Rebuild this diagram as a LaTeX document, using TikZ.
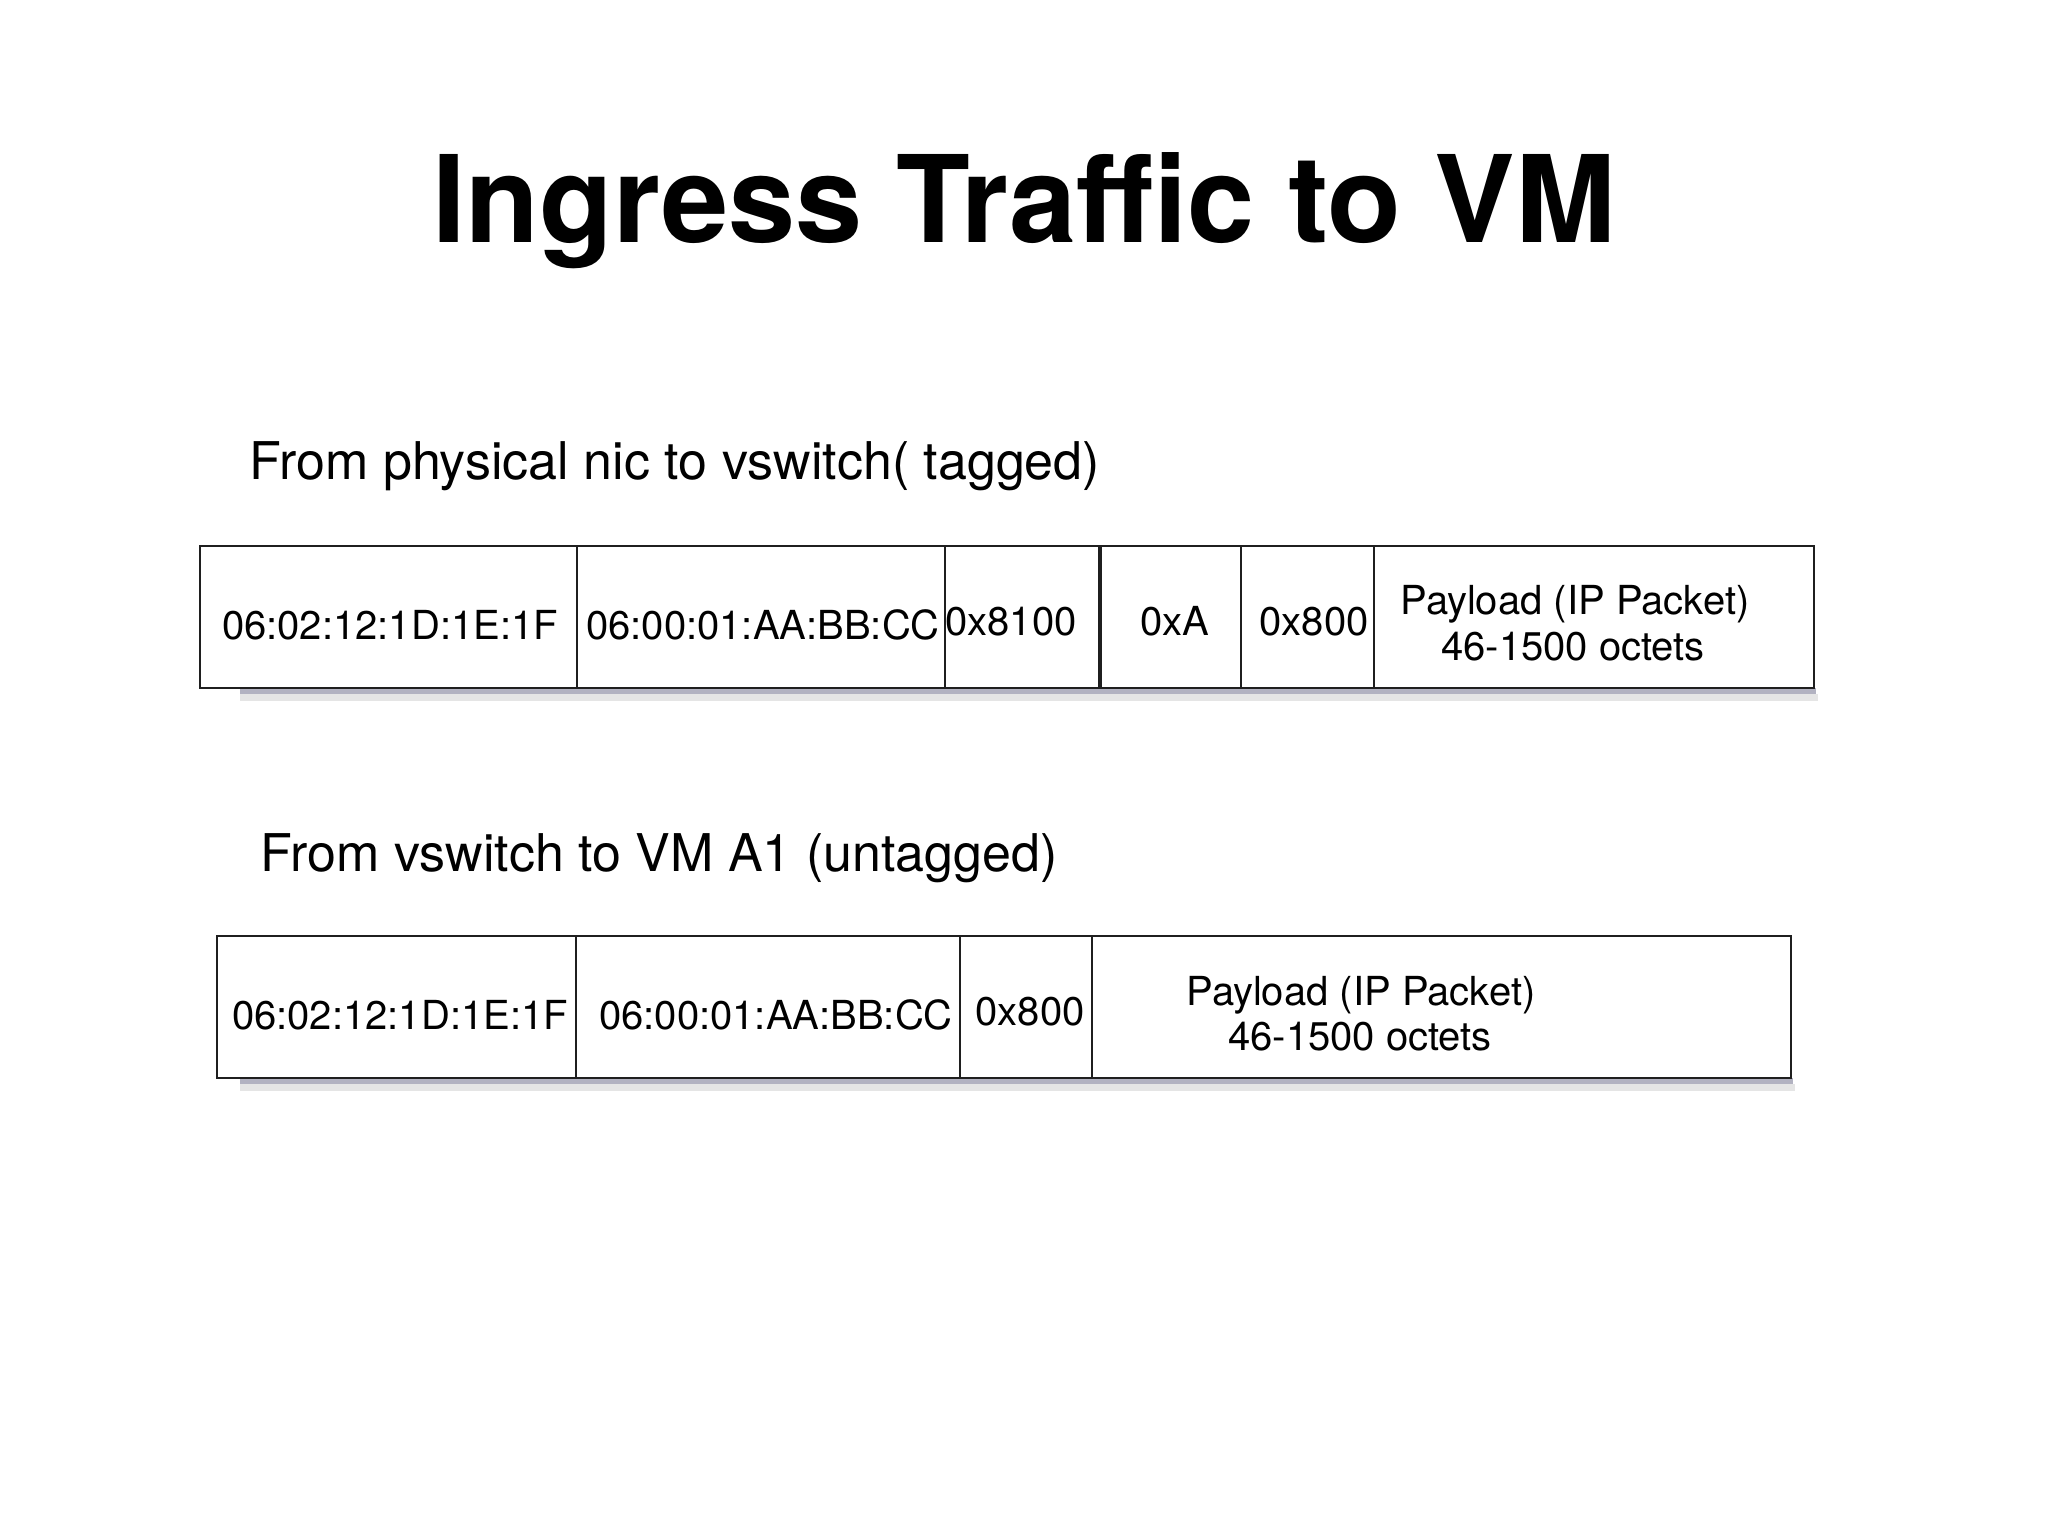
\documentclass[tikz,border=0pt]{standalone}
\usepackage{fontspec}
\setmainfont{TeX Gyre Heros}
\begin{document}
\begin{tikzpicture}[x=0.5pt,y=-0.5pt,
  cellline/.style={draw=black!88, line width=1.1pt},
  celltxt/.style={anchor=base, inner sep=0pt, font=\fontsize{20}{24}\selectfont},
  subtxt/.style={anchor=base west, inner sep=0pt, font=\fontsize{26}{31}\selectfont},
  shadowdark/.style={fill=black!80!blue, opacity=0.30},
  shadowlight/.style={fill=black, opacity=0.10}]
\useasboundingbox[fill=white] (0,0) rectangle (2048,1536);

% title
\node[anchor=base, inner sep=0pt, font=\bfseries\fontsize{60.4}{72}\selectfont] (title) at (1024,242) {Ingress Traffic to VM};

% subtitles
\node[subtxt] (sub1) at (249,479) {From physical nic to vswitch( tagged)};
\node[subtxt] (sub2) at (260,871) {From vswitch to VM A1 (untagged)};

% row 1 (tagged frame)
\fill[shadowdark] (240,688) rectangle (1816,694);
\fill[shadowlight] (240,694) rectangle (1818,701);
\draw[cellline, fill=white] (200,546) rectangle (1814,688);
\draw[cellline] (577,546) -- (577,688);
\draw[cellline] (945,546) -- (945,688);
\draw[cellline, line width=1.6pt] (1100,546) -- (1100,688);
\draw[cellline] (1241,546) -- (1241,688);
\draw[cellline] (1374,546) -- (1374,688);

\node[celltxt] (r1dst)  at (390,639)  {06:02:12:1D:1E:1F};
\node[celltxt] (r1src)  at (763,639)  {06:00:01:AA:BB:CC};
\node[celltxt] (r1tpid) at (1011,635) {0x8100};
\node[celltxt] (r1vid)  at (1175,635) {0xA};
\node[celltxt] (r1type) at (1314,635) {0x800};
\node[celltxt] (r1pl)   at (1575,614) {Payload (IP Packet)};
\node[celltxt] (r1len)  at (1573,660) {46-1500 octets};

% row 2 (untagged frame)
\fill[shadowdark] (240,1078) rectangle (1793,1084);
\fill[shadowlight] (240,1084) rectangle (1795,1091);
\draw[cellline, fill=white] (217,936) rectangle (1791,1078);
\draw[cellline] (576,936) -- (576,1078);
\draw[cellline] (960,936) -- (960,1078);
\draw[cellline] (1092,936) -- (1092,1078);

\node[celltxt] (r2dst)  at (400,1029)  {06:02:12:1D:1E:1F};
\node[celltxt] (r2src)  at (776,1029)  {06:00:01:AA:BB:CC};
\node[celltxt] (r2type) at (1030,1025) {0x800};
\node[celltxt] (r2pl)   at (1361,1005) {Payload (IP Packet)};
\node[celltxt] (r2len)  at (1360,1050) {46-1500 octets};
\end{tikzpicture}
\end{document}
